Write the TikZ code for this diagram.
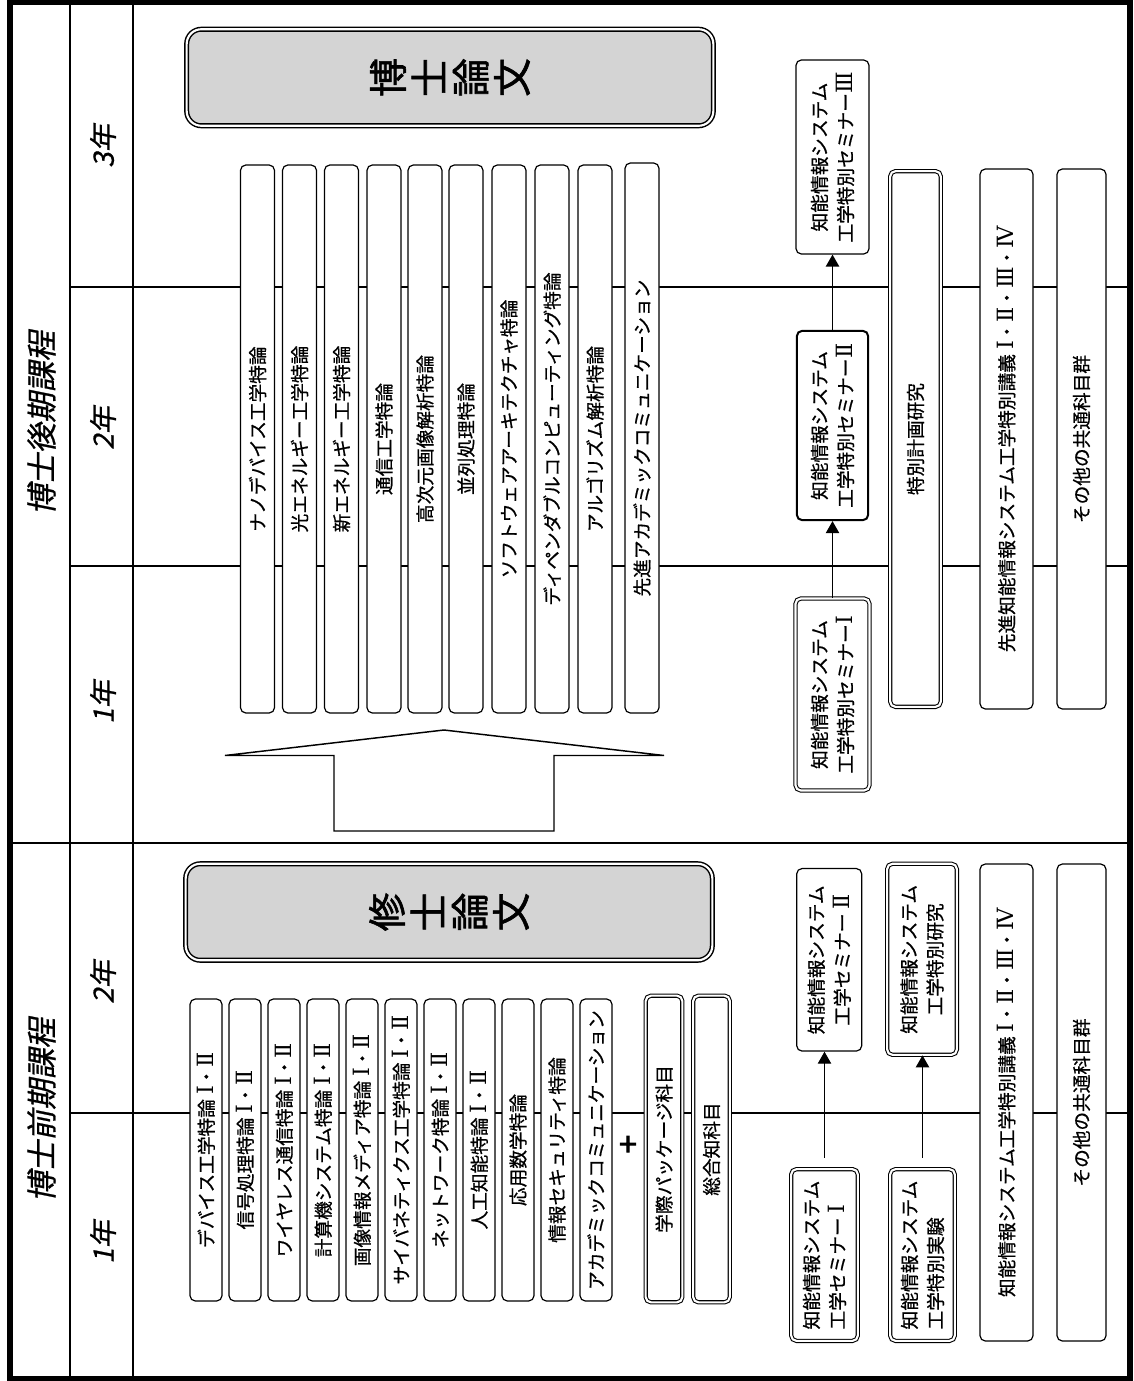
\documentclass[tikz,border=0pt]{standalone}
\usepackage{fontspec}
\setmainfont{Noto Sans CJK JP}[FakeBold=0.7]
\newfontfamily\slantjp[FakeSlant=0.2, FakeBold=0.7]{Noto Sans CJK JP}
\newfontfamily\boldjp[FakeBold=3]{Noto Sans CJK JP}
\newfontfamily\thesisjp[FakeBold=1.6]{Noto Sans CJK JP}
\newfontfamily\romfont[Scale=1.2]{DejaVu Serif}
\newcommand{\rmnI}{{\romfont Ⅰ}}
\newcommand{\rmnII}{{\romfont Ⅱ}}
\newcommand{\rmnIII}{{\romfont Ⅲ}}
\newcommand{\rmnIV}{{\romfont Ⅳ}}
\usepackage{tikz}
\usetikzlibrary{positioning, arrows.meta}

\begin{document}
\begin{tikzpicture}[x=0.75pt, y=-0.75pt,
  subj/.style={draw, fill=white, line width=0.9pt, rounded corners=4pt, rotate=90,
    inner sep=1pt, font=\fontsize{14}{19.5}\selectfont},
  dbl/.style={double, double distance=1.6pt, line width=0.8pt},
  longbox/.style={subj, minimum width=411pt, minimum height=25.5pt},
  shortbox/.style={subj, minimum width=226.5pt, minimum height=24pt},
  thesis/.style={subj, dbl, fill=black!17, line width=1.1pt, rounded corners=11pt,
    align=center, minimum width=72.4pt, minimum height=395pt, font=\thesisjp\fontsize{29}{31}\selectfont},
  course/.style={rotate=90, font=\slantjp\fontsize{23}{23}\selectfont},
  yearlbl/.style={rotate=90, font=\slantjp\fontsize{21}{21}\selectfont},
  yearline/.style={line width=0.9pt},
  semarrow/.style={-{Triangle[width=10pt,length=9pt]}, line width=1pt},
]
\useasboundingbox (0,0) rectangle (1133,1381);

% table lines
\draw[line width=1.3pt] (70,2.5) -- (70,1378.5) (133,2.5) -- (133,1378.5);
\draw[line width=1.3pt] (10,843) -- (1130,843);
\draw[yearline] (70,287) -- (1130,287) (70,566) -- (1130,566) (70,1113) -- (1130,1113);

% left columns
\node[course] (dcourse) at (41.5,423) {博士後期課程};
\node[yearlbl] (d3) at (103,146) {3年};
\node[yearlbl] (d2) at (103,428) {2年};
\node[yearlbl] (d1) at (103,702) {1年};
\node[course] (mcourse) at (41.5,1110) {博士前期課程};
\node[yearlbl] (m2) at (103,982) {2年};
\node[yearlbl] (m1) at (103,1242) {1年};

% doctoral thesis and courses
\node[thesis] (dthesis) at (450,77.5) {博\\士\\論\\文};
\node[longbox] (dk0) at (257.5,439) {ナノデバイス工学特論};
\node[longbox] (dk1) at (299.5,439) {光エネルギー工学特論};
\node[longbox] (dk2) at (341.5,439) {新エネルギー工学特論};
\node[longbox] (dk3) at (384,439) {通信工学特論};
\node[longbox] (dk4) at (425,439) {高次元画像解析特論};
\node[longbox] (dk5) at (466,439) {並列処理特論};
\node[longbox] (dk6) at (509,439) {ソフトウェアアーキテクチャ特論};
\node[longbox] (dk7) at (552,439) {ディペンダブルコンピューティング特論};
\node[longbox] (dk8) at (595,439) {アルゴリズム解析特論};
\node[longbox, minimum width=412.5pt] (dk9) at (642,438) {先進アカデミックコミュニケーション};

% block arrow, master -> doctor
\draw[line width=1.1pt, fill=white] (334,831) -- (334,755.5) -- (225,755.5) -- (444,730)
  -- (664,755.5) -- (554,755.5) -- (554,831) -- cycle;

% doctoral seminars
\node[subj, align=center, minimum width=145.5pt, minimum height=54.75pt] (sem3) at (832.5,157) {知能情報システム\\工学特別セミナー\rmnIII};
\node[subj, align=center, line width=1.5pt, minimum width=142pt, minimum height=53.5pt] (sem2) at (832.5,425.5) {知能情報システム\\工学特別セミナー\rmnII};
\node[subj, dbl, align=center, minimum width=144pt, minimum height=55.5pt] (sem1) at (832.5,694.5) {知能情報システム\\工学特別セミナー\rmnI};
\draw[semarrow] (sem1.east) -- (sem2.west);
\draw[semarrow] (sem2.east) -- (sem3.west);

\node[subj, dbl, minimum width=401.8pt, minimum height=38pt] (plan) at (915.5,439) {特別計画研究};
\node[subj, minimum width=405pt, minimum height=39.75pt] (dlec) at (1006.5,439) {先進知能情報システム工学特別講義 \rmnI・\rmnII・\rmnIII・\rmnIV};
\node[subj, minimum width=405pt, minimum height=36.75pt] (dother) at (1081.5,439) {その他の共通科目群};

% master thesis and courses
\node[thesis] (mthesis) at (449,912) {修\\士\\論\\文};
\node[shortbox] (mk0) at (206,1150) {デバイス工学特論 \rmnI・\rmnII};
\node[shortbox] (mk1) at (245,1150) {信号処理特論 \rmnI・\rmnII};
\node[shortbox] (mk2) at (284,1150) {ワイヤレス通信特論 \rmnI・\rmnII};
\node[shortbox] (mk3) at (323,1150) {計算機システム特論 \rmnI・\rmnII};
\node[shortbox] (mk4) at (362,1150) {画像情報メディア特論 \rmnI・\rmnII};
\node[shortbox] (mk5) at (401,1150) {サイバネティクス工学特論 \rmnI・\rmnII};
\node[shortbox] (mk6) at (440,1150) {ネットワーク特論 \rmnI・\rmnII};
\node[shortbox] (mk7) at (479,1150) {人工知能特論 \rmnI・\rmnII};
\node[shortbox] (mk8) at (518,1150) {応用数学特論};
\node[shortbox] (mk9) at (557,1150) {情報セキュリティ特論};
\node[shortbox] (mk10) at (596,1150) {アカデミックコミュニケーション};
\node[font=\boldjp\fontsize{24}{24}\selectfont] (plus) at (628,1146) {+};
\node[shortbox, dbl, minimum width=230pt, minimum height=27.5pt] (mpack) at (664,1149) {学際パッケージ科目};
\node[shortbox, dbl, minimum width=230pt, minimum height=27.5pt] (mgen) at (711.5,1149) {総合知科目};

% master seminars
\node[subj, align=center, minimum width=136.9pt, minimum height=48.75pt] (msem2) at (829.2,959.8) {知能情報システム\\工学セミナー \rmnII};
\node[subj, dbl, align=center, minimum width=143.3pt, minimum height=52.3pt] (mres) at (922,959.3) {知能情報システム\\工学特別研究};
\node[subj, dbl, align=left, minimum width=128.8pt, minimum height=50pt] (msem1) at (824.5,1255) {知能情報システム\\工学セミナー \rmnI};
\node[subj, dbl, align=left, minimum width=128.8pt, minimum height=48.5pt] (mexp) at (922.5,1255) {知能情報システム\\工学特別実験};
\draw[semarrow, shorten <=8pt] (msem1.east) -- (msem1.east |- msem2.west);
\draw[semarrow, shorten <=8pt] (mexp.east) -- (mexp.east |- mres.west);

\node[subj, minimum width=357.75pt, minimum height=39.75pt] (mlec) at (1006.5,1102.5) {知能情報システム工学特別講義 \rmnI・\rmnII・\rmnIII・\rmnIV};
\node[subj, minimum width=357.75pt, minimum height=36.75pt] (mother) at (1081.5,1102.5) {その他の共通科目群};

% outer frame
\draw[line width=3.8pt] (10,2.5) rectangle (1130,1378.5);
\end{tikzpicture}
\end{document}
